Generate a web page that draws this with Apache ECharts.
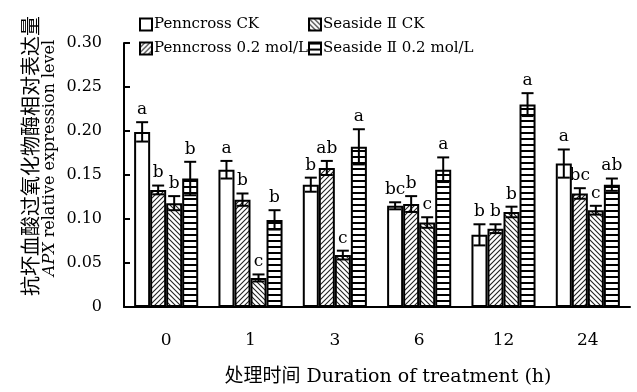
<!DOCTYPE html>
<html>
<head>
<meta charset="utf-8">
<script src="https://cdn.jsdelivr.net/npm/echarts@6/dist/echarts.min.js"></script>
<style>html,body{margin:0;padding:0;background:#fff;}#c{width:637px;height:392px;}</style>
</head>
<body>
<div id="c"></div>
<script>
// ---- data ----
var categories = ['0', '1', '3', '6', '12', '24'];
var seriesNames = ['Penncross CK', 'Penncross 0.2 mol/L', 'Seaside Ⅱ CK', 'Seaside Ⅱ 0.2 mol/L'];
var pennCK      = [0.199, 0.156, 0.139, 0.115, 0.082, 0.163];
var pennCKErr   = [0.011, 0.010, 0.008, 0.004, 0.012, 0.016];
var penn02      = [0.133, 0.122, 0.158, 0.117, 0.089, 0.129];
var penn02Err   = [0.005, 0.007, 0.008, 0.009, 0.005, 0.006];
var seaCK       = [0.118, 0.033, 0.059, 0.096, 0.108, 0.110];
var seaCKErr    = [0.008, 0.004, 0.005, 0.006, 0.006, 0.005];
var sea02       = [0.146, 0.099, 0.182, 0.156, 0.230, 0.139];
var sea02Err    = [0.019, 0.011, 0.020, 0.014, 0.013, 0.007];
var pennCKSig   = ['a', 'a', 'b', 'bc', 'b', 'a'];
var penn02Sig   = ['b', 'b', 'ab', 'b', 'b', 'bc'];
var seaCKSig    = ['b', 'c', 'c', 'c', 'b', 'c'];
var sea02Sig    = ['b', 'b', 'a', 'a', 'a', 'ab'];
var yTicks = [0, 0.05, 0.10, 0.15, 0.20, 0.25, 0.30];

var values = [pennCK, penn02, seaCK, sea02];
var errors = [pennCKErr, penn02Err, seaCKErr, sea02Err];
var sigs = [pennCKSig, penn02Sig, seaCKSig, sea02Sig];

// ---- patterns ----
function makePattern(type) {
  var s = type === 'h' ? 6 : 5;
  var cv = document.createElement('canvas');
  cv.width = s; cv.height = s;
  var ctx = cv.getContext('2d');
  ctx.fillStyle = '#fff';
  ctx.fillRect(0, 0, s, s);
  ctx.strokeStyle = '#222';
  ctx.fillStyle = '#000';
  if (type === 'h') {
    ctx.fillRect(0, 0, s, 2);
  } else {
    ctx.lineWidth = 1.1;
    ctx.beginPath();
    if (type === '/') {
      ctx.moveTo(-1, s + 1); ctx.lineTo(s + 1, -1);
      ctx.moveTo(-1, 1); ctx.lineTo(1, -1);
      ctx.moveTo(s - 1, s + 1); ctx.lineTo(s + 1, s - 1);
    } else {
      ctx.moveTo(-1, -1); ctx.lineTo(s + 1, s + 1);
      ctx.moveTo(s - 1, -1); ctx.lineTo(s + 1, 1);
      ctx.moveTo(-1, s - 1); ctx.lineTo(1, s + 1);
    }
    ctx.stroke();
  }
  return { image: cv, repeat: 'repeat' };
}
var fills = ['#ffffff', makePattern('/'), makePattern('\\'), makePattern('h')];

var serif = "'DejaVu Serif', 'Liberation Serif', 'Noto Sans CJK SC', serif";

var BW = 0.19;
var series = [];
for (var k = 0; k < 4; k++) {
  series.push({
    name: seriesNames[k],
    type: 'bar',
    barWidth: (BW * 100) + '%',
    barGap: '0%',
    data: values[k],
    itemStyle: { color: fills[k], borderColor: '#000', borderWidth: 2 },
    z: 2
  });
}

var errData = [];
var errSig = [];
for (var k2 = 0; k2 < 4; k2++) {
  for (var i = 0; i < categories.length; i++) {
    errData.push([i, k2, values[k2][i], errors[k2][i]]);
    errSig.push(sigs[k2][i]);
  }
}

series.push({
  type: 'custom',
  name: 'err',
  z: 5,
  silent: true,
  encode: { x: 0, y: 2 },
  data: errData,
  renderItem: function (params, api) {
    var ci = api.value(0), k = api.value(1), v = api.value(2), e = api.value(3);
    var catW = api.size([1, 0])[0];
    var bw = catW * BW;
    var c = api.coord([ci, v]);
    var x = c[0] + (k - 1.5) * bw;
    var yT = api.coord([ci, v + e])[1];
    var yB = api.coord([ci, v - e])[1];
    var hw = 6;
    var st = { stroke: '#000', lineWidth: 2 };
    return {
      type: 'group',
      children: [
        { type: 'line', shape: { x1: x, y1: yT, x2: x, y2: yB }, style: st },
        { type: 'line', shape: { x1: x - hw, y1: yT, x2: x + hw, y2: yT }, style: st },
        { type: 'line', shape: { x1: x - hw, y1: yB, x2: x + hw, y2: yB }, style: st },
        { type: 'text', x: x, y: yT - 4, style: { text: errSig[params.dataIndex], fontFamily: serif, fontSize: 17, fill: '#000', align: 'center', verticalAlign: 'bottom' } }
      ]
    };
  }
});

var chart = echarts.init(document.getElementById('c'));
function legendOpt(left, names, size) {
  return {
    left: left, data: names,
    orient: 'vertical', top: 12, itemWidth: 12, itemHeight: 12, itemGap: 9,
    icon: 'rect',
    textStyle: { fontFamily: serif, fontSize: size, color: '#000', padding: [0, 0, 0, -3] }
  };
}
chart.setOption({
  animation: false,
  backgroundColor: '#fff',
  grid: { left: 124, right: 7, top: 43, bottom: 85 },
  legend: [
    legendOpt(134, [seriesNames[0], seriesNames[1]], 15),
    legendOpt(303, [seriesNames[2], seriesNames[3]], 15)
  ],
  xAxis: {
    type: 'category',
    data: categories,
    axisLine: { lineStyle: { color: '#000', width: 2 } },
    axisTick: { inside: true, length: 6, lineStyle: { color: '#000', width: 2 } },
    axisLabel: { margin: 25, fontFamily: serif, fontSize: 17, color: '#000' }
  },
  yAxis: {
    type: 'value',
    min: 0, max: 0.3, interval: 0.05,
    axisLine: { show: true, lineStyle: { color: '#000', width: 2 } },
    axisTick: { show: true, inside: true, length: 6, lineStyle: { color: '#000', width: 2 } },
    splitLine: { show: false },
    axisLabel: {
      margin: 22, fontFamily: serif, fontSize: 16, color: '#000',
      formatter: function (v) {
        var t = yTicks.filter(function (y) { return Math.abs(y - v) < 1e-9; })[0];
        return t === 0 ? '0' : t.toFixed(2);
      }
    }
  },
  graphic: [
    { type: 'text', x: 388, y: 377, style: { text: '处理时间 Duration of treatment (h)', fontFamily: serif, fontSize: 19, fill: '#000', align: 'center', verticalAlign: 'middle' } },
    { type: 'text', x: 30, y: 156, rotation: Math.PI / 2, style: { text: '抗坏血酸过氧化物酶相对表达量', fontFamily: "'Noto Sans CJK SC', sans-serif", fontSize: 20, fill: '#000', align: 'center', verticalAlign: 'middle' } },
    { type: 'text', x: 50, y: 158, rotation: Math.PI / 2, style: { text: '{i|APX} relative expression level', fontFamily: serif, fontSize: 16, fill: '#000', align: 'center', verticalAlign: 'middle', rich: { i: { fontStyle: 'italic', fontFamily: serif, fontSize: 16 } } } }
  ],
  series: series
});
</script>
</body>
</html>
